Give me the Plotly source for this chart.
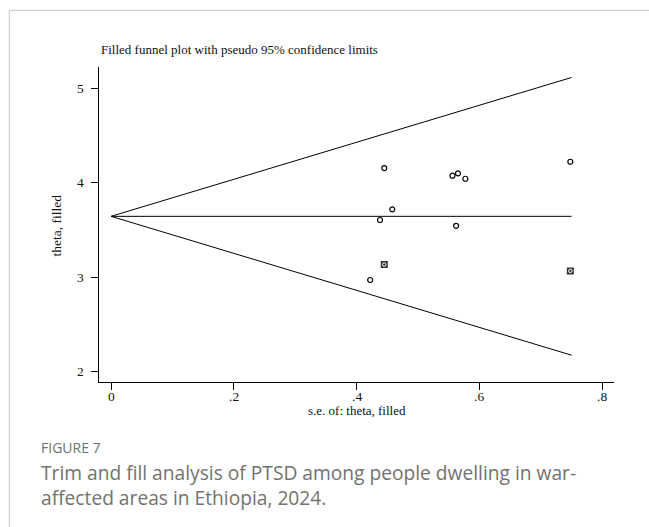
import plotly.graph_objects as go

# Observed studies: standard error and effect estimate (theta)
obs_se = [0.445, 0.556, 0.565, 0.577, 0.748, 0.458, 0.438, 0.562, 0.422]
obs_theta = [4.156, 4.075, 4.100, 4.043, 4.223, 3.719, 3.606, 3.545, 2.971]

# Imputed (filled) studies from trim and fill
fill_se = [0.445, 0.748]
fill_theta = [3.134, 3.067]

# Pooled estimate and funnel extent
pooled = 3.645
se_max = 0.75
z = 1.96

x_ticks = [0, 0.2, 0.4, 0.6, 0.8]
x_tick_text = ["0", ".2", ".4", ".6", ".8"]
y_ticks = [2, 3, 4, 5]
y_tick_text = ["2", "3", "4", "5"]

W, H = 649, 527
SERIF = "Liberation Serif, Times New Roman, serif"
SANS = "Open Sans, sans-serif"
TXT = "#111111"

fig = go.Figure()

# Pseudo 95% confidence limits
fig.add_trace(go.Scatter(
    x=[se_max, 0, se_max],
    y=[pooled + z * se_max, pooled, pooled - z * se_max],
    mode="lines", line=dict(color="black", width=1), hoverinfo="skip"))
# Pooled estimate line
fig.add_trace(go.Scatter(
    x=[0, se_max], y=[pooled, pooled],
    mode="lines", line=dict(color="black", width=1), hoverinfo="skip"))

# Observed studies
fig.add_trace(go.Scatter(
    x=obs_se, y=obs_theta, mode="markers",
    marker=dict(symbol="circle-open", size=5, color="black",
                line=dict(width=1.2, color="black"))))

# Filled studies: square with inner ring
fig.add_trace(go.Scatter(
    x=fill_se, y=fill_theta, mode="markers",
    marker=dict(symbol="square", size=7, color="#333333",
                line=dict(width=0))))
fig.add_trace(go.Scatter(
    x=fill_se, y=fill_theta, mode="markers",
    marker=dict(symbol="circle-open", size=3.5, color="white",
                line=dict(width=1, color="white"))))

x0, x1 = 99.3, 614.3
yt, yb = 66.7, 382.3

annotations = [
    dict(text="Filled funnel plot with pseudo 95% confidence limits",
         xref="paper", yref="paper", x=99 / W, y=1 - 50 / H,
         xanchor="left", yanchor="middle", showarrow=False,
         font=dict(family=SERIF, size=13, color=TXT)),
    dict(text="s.e. of: theta, filled",
         xref="paper", yref="paper", x=357 / W, y=1 - 410 / H,
         xanchor="center", yanchor="middle", showarrow=False,
         font=dict(family=SERIF, size=13, color=TXT)),
    dict(text="theta, filled", textangle=-90,
         xref="paper", yref="paper", x=55.5 / W, y=1 - 226 / H,
         xanchor="center", yanchor="middle", showarrow=False,
         font=dict(family=SERIF, size=13.5, color=TXT)),
    dict(text="FIGURE 7",
         xref="paper", yref="paper", x=39 / W, y=1 - 447 / H,
         xanchor="left", yanchor="middle", showarrow=False,
         font=dict(family=SANS, size=14, color="#707070")),
    dict(text="Trim and fill analysis of PTSD among people dwelling in war-<br>"
              "affected areas in Ethiopia, 2024.",
         xref="paper", yref="paper", x=39 / W, y=1 - 485 / H,
         xanchor="left", yanchor="middle", align="left", showarrow=False,
         font=dict(family=SANS, size=19.2, color="#727272")),
]

# Tick labels placed on the axes' own scales
for v, t in zip(x_ticks, x_tick_text):
    annotations.append(dict(
        text=t, xref="x", yref="paper", x=v, y=1 - 396.5 / H,
        xanchor="center", yanchor="middle", showarrow=False,
        font=dict(family=SERIF, size=13.5, color=TXT)))
for v, t in zip(y_ticks, y_tick_text):
    annotations.append(dict(
        text=t, xref="paper", yref="y", x=86 / W, y=v,
        xanchor="right", yanchor="middle", showarrow=False,
        font=dict(family=SERIF, size=13.5, color=TXT)))

fig.update_layout(
    width=W, height=H,
    margin=dict(l=0, r=0, t=0, b=0),
    paper_bgcolor="white", plot_bgcolor="white",
    showlegend=False,
    xaxis=dict(
        domain=[x0 / W, x1 / W],
        range=[-0.0191, 0.8196],
        tickvals=x_ticks, showticklabels=False,
        ticks="outside", ticklen=7, tickwidth=1, tickcolor="black",
        showline=True, linecolor="black", linewidth=1,
        showgrid=False, zeroline=False,
    ),
    yaxis=dict(
        domain=[1 - yb / H, 1 - yt / H],
        range=[1.888, 5.229],
        tickvals=y_ticks, showticklabels=False,
        ticks="outside", ticklen=7, tickwidth=1, tickcolor="black",
        showline=True, linecolor="black", linewidth=1,
        showgrid=False, zeroline=False,
    ),
    shapes=[
        # card border (left and top edges visible)
        dict(type="rect", xref="paper", yref="paper",
             x0=9.3 / W, x1=1.02, y0=-0.02, y1=1 - 10.3 / H,
             line=dict(color="#c8c8c8", width=1), layer="below"),
    ],
    annotations=annotations,
)

fig.write_html("out.html")
